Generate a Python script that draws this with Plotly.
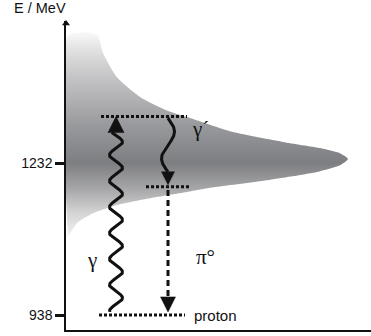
import numpy as np
import plotly.graph_objects as go

# ---------------- data ----------------
tick_vals = [938, 1232]
tick_text = ["938", "1232"]
axis_title = "E / MeV"

# resonance outline (energy in MeV, width in px-like x units from the axis)
res_upper_E = [1480, 1445, 1398, 1360, 1334, 1321, 1292, 1273, 1261, 1251, 1240]
res_upper_w = [31, 37, 51, 74, 101, 121, 167, 217, 254, 274, 282]
res_lower_E = [1228, 1215, 1199, 1186, 1176, 1164, 1151, 1135, 1116, 1089]
res_lower_w = [274, 251, 201, 151, 121, 84, 51, 27, 11, 2]
res_left = 2

# energy levels (dotted lines)
level_E = [1322, 1186, 938]
level_x0 = [35, 80, 33]
level_x1 = [121, 124, 119]

# transitions
gamma_x, gamma_E0, gamma_E1 = 50, 944, 1322          # photon absorbed
gprime_x, gprime_E0, gprime_E1 = 102, 1319, 1190     # photon emitted
pi_x, pi_E0, pi_E1 = 102, 1180, 944                  # pion emission

labels = ["γ", "γ´", "π°", "proton"]
label_x = [26, 134, 139, 126]
label_E = [1044, 1298, 1050, 937]

# ---------------- layout geometry ----------------
W, H = 371, 336
ML, MR, MT, MB = 66, 0, 21, 6
X_RANGE = [0, 305]
Y_RANGE = [909, 1507]
PX_X = (X_RANGE[1] - X_RANGE[0]) / (W - ML - MR)
PX_Y = (Y_RANGE[1] - Y_RANGE[0]) / (H - MT - MB)

SANS = "Liberation Sans, Arial, sans-serif"
SERIF = "Liberation Serif, Times New Roman, serif"

fig = go.Figure()

# resonance shape with vertical gradient
sx = [res_left] + res_upper_w + res_lower_w + [res_left, res_left]
sy = [res_upper_E[0]] + res_upper_E + res_lower_E + [res_lower_E[-1], res_upper_E[0]]
E_lo, E_hi = res_lower_E[-1], res_upper_E[0]
pc = (1232 - E_lo) / (E_hi - E_lo)
fig.add_trace(go.Scatter(
    x=sx, y=sy, mode="lines", fill="toself",
    line=dict(width=0, color="rgba(0,0,0,0)", shape="spline", smoothing=0.6),
    fillgradient=dict(
        type="vertical", start=E_lo, stop=E_hi,
        colorscale=[[0, "#f2f2f2"], [0.12, "#d4d4d5"], [0.24, "#a6a6a8"],
                    [pc, "#7d7e81"], [0.55, "#98999c"], [0.62, "#a6a6a9"],
                    [0.8, "#c6c6c8"], [0.93, "#e2e2e2"], [1, "#f6f6f6"]]),
    hoverinfo="skip", showlegend=False))

# dotted levels
for e, x0, x1 in zip(level_E, level_x0, level_x1):
    fig.add_trace(go.Scatter(x=[x0, x1], y=[e, e], mode="lines",
                             line=dict(color="#111", width=3, dash="3px,2px"),
                             hoverinfo="skip", showlegend=False))


def wave(xc, e0, e1, n, amp_px, phase):
    t = np.linspace(0, 1, 500)
    return (xc + amp_px * PX_X * np.sin(2 * np.pi * n * t + phase)), e0 + (e1 - e0) * t


def head(xc, e_tip, direction, w_px, h_px):
    eb = e_tip - direction * h_px * PX_Y
    return ([xc - w_px / 2 * PX_X, xc + w_px / 2 * PX_X, xc, xc - w_px / 2 * PX_X],
            [eb, eb, e_tip, eb])


# gamma (up)
g_head_h = 16
gx, gy = wave(gamma_x, gamma_E0, gamma_E1 - g_head_h * PX_Y, 6.9, 6.5, -1.8)
fig.add_trace(go.Scatter(x=gx, y=gy, mode="lines", line=dict(color="#111", width=3),
                         hoverinfo="skip", showlegend=False))
hx, hy = head(gamma_x, gamma_E1, 1, 16, g_head_h)
fig.add_trace(go.Scatter(x=hx, y=hy, mode="lines", fill="toself", fillcolor="#111",
                         line=dict(width=0.5, color="#111"), hoverinfo="skip", showlegend=False))

# gamma prime (down)
gp_head_h = 13
gx, gy = wave(gprime_x, gprime_E0, gprime_E1 + gp_head_h * PX_Y, 1.0, 6.5, 0)
fig.add_trace(go.Scatter(x=gx, y=gy, mode="lines", line=dict(color="#111", width=3),
                         hoverinfo="skip", showlegend=False))
hx, hy = head(gprime_x, gprime_E1, -1, 13, gp_head_h)
fig.add_trace(go.Scatter(x=hx, y=hy, mode="lines", fill="toself", fillcolor="#111",
                         line=dict(width=0.5, color="#111"), hoverinfo="skip", showlegend=False))

# pion (dashed, down)
p_head_h = 15
fig.add_trace(go.Scatter(x=[pi_x, pi_x], y=[pi_E0, pi_E1 + p_head_h * PX_Y], mode="lines",
                         line=dict(color="#111", width=3, dash="6px,4px"),
                         hoverinfo="skip", showlegend=False))
hx, hy = head(pi_x, pi_E1, -1, 15, p_head_h)
fig.add_trace(go.Scatter(x=hx, y=hy, mode="lines", fill="toself", fillcolor="#111",
                         line=dict(width=0.5, color="#111"), hoverinfo="skip", showlegend=False))

# axis arrow head
fig.add_trace(go.Scatter(x=[0], y=[Y_RANGE[1] - 2.5 * PX_Y], mode="markers",
                         marker=dict(symbol="triangle-up", size=7, color="#111"),
                         cliponaxis=False, hoverinfo="skip", showlegend=False))

# labels
for txt, x, e in zip(labels, label_x, label_E):
    if txt == "proton":
        fig.add_annotation(x=x, y=e, text=txt, showarrow=False, xanchor="left",
                           font=dict(family=SANS, size=15, color="#111"))
    else:
        fig.add_annotation(x=x, y=e, text=txt, showarrow=False,
                           font=dict(family=SERIF, size=21, color="#111"))

fig.add_annotation(xref="paper", yref="paper", x=0, y=1, xanchor="right", yanchor="bottom",
                   xshift=2, yshift=3, text=axis_title, showarrow=False,
                   font=dict(family=SANS, size=14.5, color="#111"))

fig.update_xaxes(range=X_RANGE, showgrid=False, zeroline=False, showticklabels=False,
                 ticks="", showline=True, linecolor="#111", linewidth=1.5)
fig.update_yaxes(range=Y_RANGE, showgrid=False, zeroline=False, tickvals=tick_vals,
                 ticktext=tick_text, ticks="outside", ticklen=9, tickwidth=2.5,
                 tickcolor="#111", showline=True, linecolor="#111", linewidth=1.5,
                 tickfont=dict(family=SANS, size=14, color="#111"))

fig.update_layout(width=W, height=H, margin=dict(l=ML, r=MR, t=MT, b=MB),
                  plot_bgcolor="white", paper_bgcolor="white", showlegend=False,
                  hovermode=False)

fig.write_html("out.html", config={"displayModeBar": False},
               post_script="document.body.style.margin='0';document.body.style.overflow='hidden';")
